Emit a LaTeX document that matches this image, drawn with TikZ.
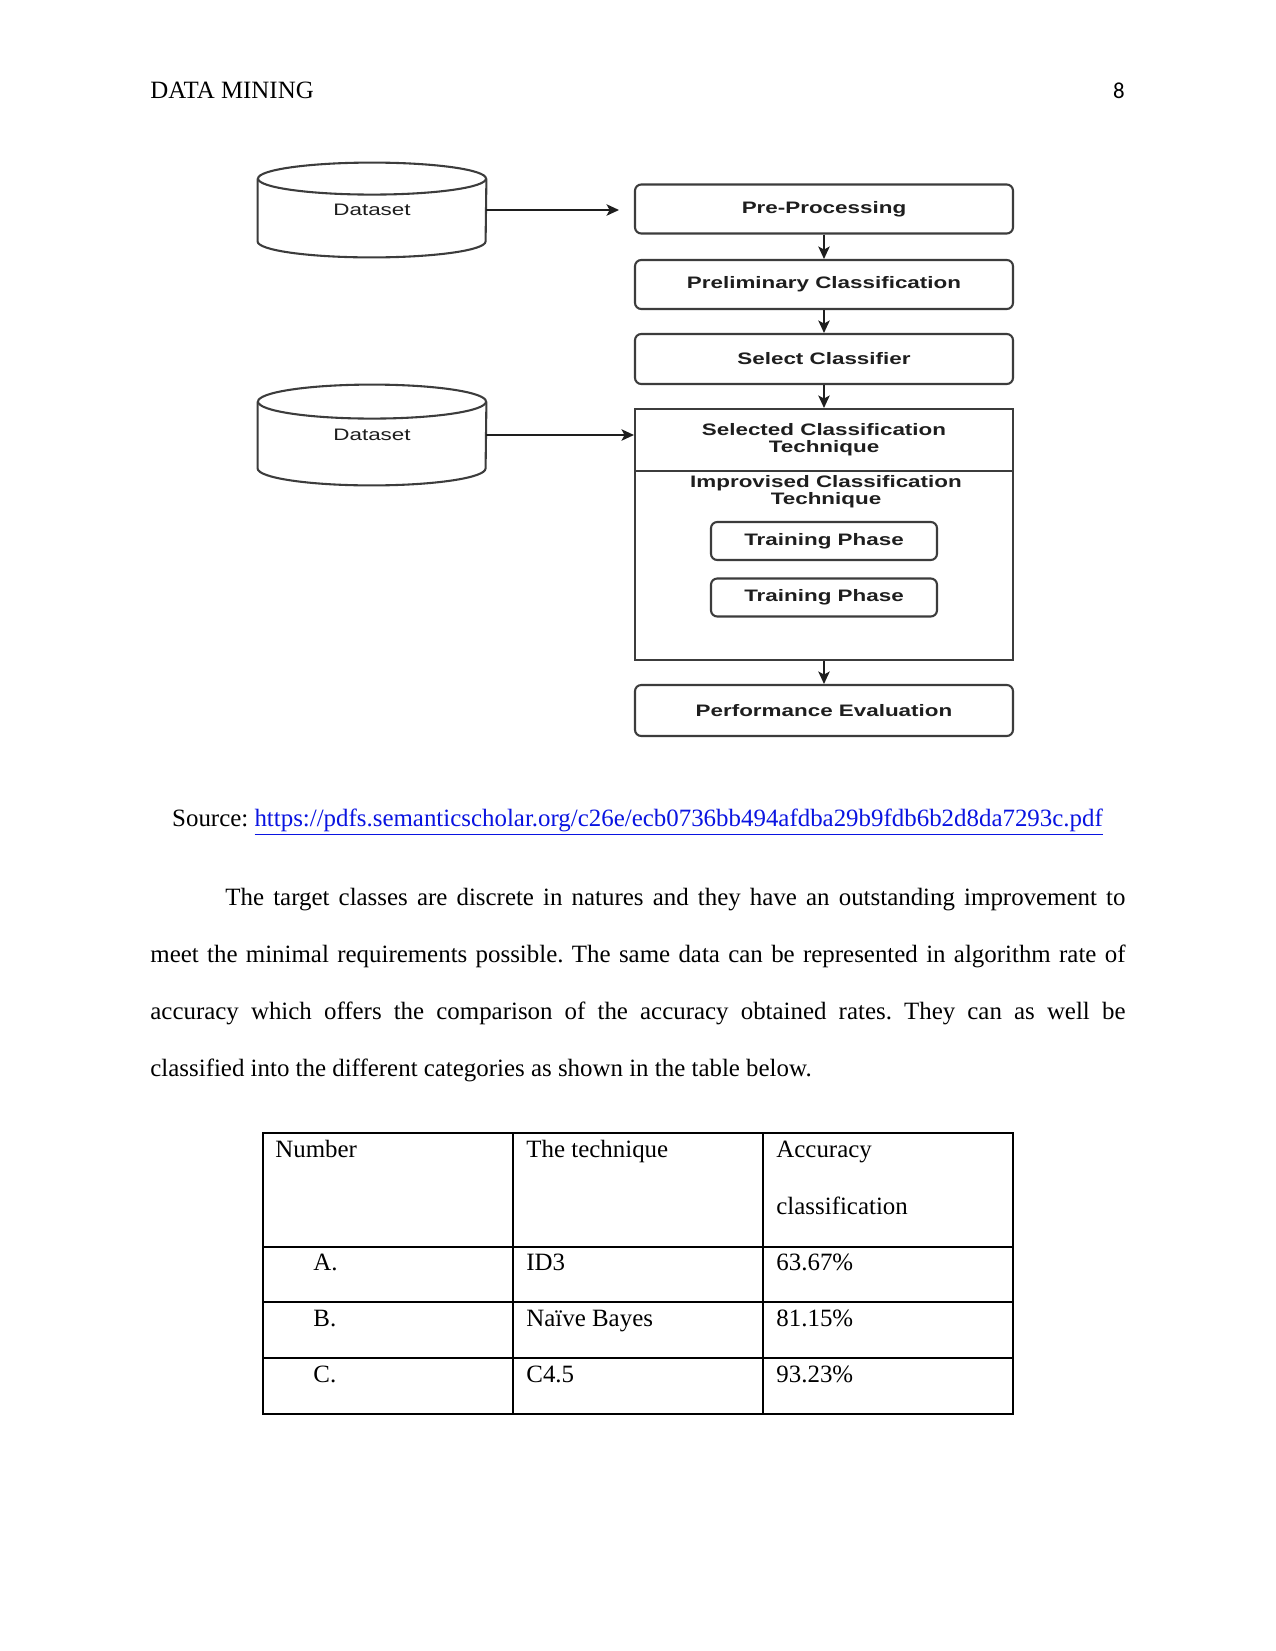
\documentclass[tikz,border=0pt]{standalone}
\usepackage{fontspec}
\setmainfont{Liberation Serif}
\newfontfamily\diagfont[FakeStretch=1.35]{Liberation Sans}
\newfontfamily\pagenumfont{Carlito}
\usetikzlibrary{arrows.meta,positioning}
\definecolor{boxgray}{RGB}{60,60,60}
\definecolor{diagtext}{RGB}{30,30,30}
\definecolor{linkblue}{RGB}{10,20,225}
\newlength\pxu
\setlength\pxu{0.48bp}
\frenchspacing

\begin{document}
\begin{tikzpicture}[x=\pxu,y=\pxu,font=\fontsize{12}{14}\selectfont,
  procbox/.style={draw=boxgray,line width=1bp,rounded corners=3bp,minimum width=378\pxu,minimum height=50\pxu,inner sep=0pt,font=\diagfont\bfseries\fontsize{8}{8.2}\selectfont,text=diagtext,align=center},
  techbox/.style={procbox,sharp corners},
  phasebox/.style={procbox,minimum width=226\pxu},
  dbase/.style={minimum width=228\pxu,inner sep=0pt,font=\diagfont\fontsize{8}{8.2}\selectfont,text=diagtext},
  dbline/.style={draw=boxgray,line width=1bp},
  flow/.style={-{Stealth[length=6bp,width=5.5bp,inset=1.5bp]},line width=0.8bp,draw=diagtext},
  txt/.style={anchor=base west,inner sep=0pt},
  tablerule/.style={line width=0.5bp}]
\path[use as bounding box,fill=white] (0,0) rectangle (1275,-1651);
% running head
\node[txt] (head) at (150,-98) {DATA MINING};
\node[anchor=base east,inner sep=0pt,font=\pagenumfont\fontsize{11}{13}\selectfont] (pagenum) at (1125,-98) {8};
% figure
\node[dbase,minimum height=94\pxu] (ds1) at (372,-210) {Dataset};
\draw[dbline] ([yshift=-16\pxu]ds1.north) ellipse [x radius=114\pxu,y radius=16\pxu];
\draw[dbline] ([yshift=-16\pxu]ds1.north west) -- ([yshift=16\pxu]ds1.south west) arc[start angle=180,end angle=360,x radius=114\pxu,y radius=16\pxu] -- ([yshift=-16\pxu]ds1.north east);
\node[dbase,minimum height=100\pxu] (ds2) at (372,-435) {Dataset};
\draw[dbline] ([yshift=-17\pxu]ds2.north) ellipse [x radius=114\pxu,y radius=17\pxu];
\draw[dbline] ([yshift=-17\pxu]ds2.north west) -- ([yshift=17\pxu]ds2.south west) arc[start angle=180,end angle=360,x radius=114\pxu,y radius=17\pxu] -- ([yshift=-17\pxu]ds2.north east);
\node[procbox,minimum height=49\pxu] (pre) at (824,-209) {Pre-Processing};
\node[procbox,minimum height=49\pxu] (prelim) at (824,-284.5) {Preliminary Classification};
\node[procbox] (select) at (824,-359) {Select Classifier};
\node[techbox,minimum height=62\pxu] (sel) at (824,-440) {Selected Classification\\Technique};
\node[techbox,minimum height=189\pxu] (impr) at (824,-565.5) {};
\node[font=\diagfont\bfseries\fontsize{8}{8.2}\selectfont,text=diagtext,align=center,inner sep=0pt] (imprlbl) at (826,-491.5) {Improvised Classification\\Technique};
\node[phasebox,minimum height=38\pxu] (train1) at (824,-541) {Training Phase};
\node[phasebox,minimum height=38\pxu] (train2) at (824,-597.5) {Training Phase};
\node[procbox,minimum height=51\pxu] (perf) at (824,-710.5) {Performance Evaluation};
\coordinate (dsin) at (619,-210);
\draw[flow] (ds1.east) -- (dsin);
\draw[flow] (ds2.east) -- (ds2.east -| sel.west);
\draw[flow] (pre) -- (prelim);
\draw[flow] (prelim) -- (select);
\draw[flow] (select) -- (sel);
\draw[flow] (impr) -- (perf);
% source and text
\node[anchor=base,inner sep=0pt] (src) at (637.5,-826) {Source: \textcolor{linkblue}{\underline{https://pdfs.semanticscholar.org/c26e/ecb0736bb494afdba29b9fdb6b2d8da7293c.pdf}}};
\node[txt] (para1) at (225,-905) {\makebox[432bp][s]{The target classes are discrete in natures and they have an outstanding improvement to}};
\node[txt] (para2) at (150,-962) {\makebox[468bp][s]{meet the minimal requirements possible. The same data can be represented in algorithm rate of}};
\node[txt] (para3) at (150,-1019) {\makebox[468bp][s]{accuracy which offers the comparison of the accuracy obtained rates. They can as well be}};
\node[txt] (para4) at (150,-1076) {classified into the different categories as shown in the table below.};
% table
\draw[tablerule] (263,-1133) rectangle (1013,-1414);
\foreach \x in {513,763} {\draw[tablerule] (\x,-1133) -- (\x,-1414);}
\foreach \y in {1247,1302,1358} {\draw[tablerule] (263,-\y) -- (1013,-\y);}
\node[txt] (hnum) at (275,-1157) {Number};
\node[txt] (htech) at (526,-1157) {The technique};
\node[txt] (hacc) at (776,-1157) {Accuracy};
\node[txt] (hcls) at (776,-1214) {classification};
\foreach \i/\y/\n/\t/\a in {a/1270/A./ID3/63.67\%,b/1326/B./Naïve Bayes/81.15\%,c/1382/C./C4.5/93.23\%} {\node[txt] (num\i) at (313,-\y) {\n}; \node[txt] (tech\i) at (526,-\y) {\t}; \node[txt] (acc\i) at (776,-\y) {\a};}
\end{tikzpicture}
\end{document}
